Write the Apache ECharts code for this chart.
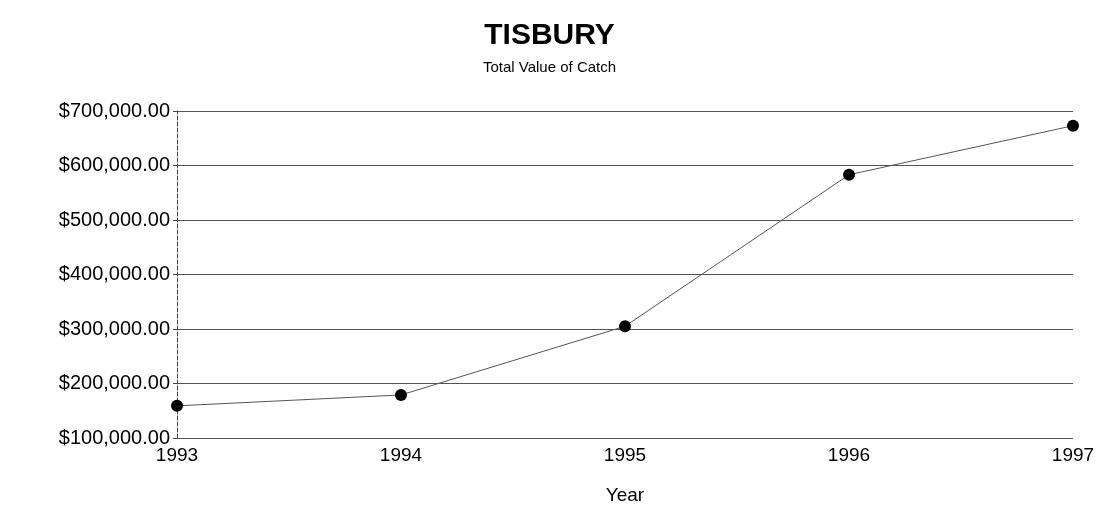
<!DOCTYPE html>
<html>
<head>
<meta charset="utf-8">
<script src="https://cdn.jsdelivr.net/npm/echarts@6/dist/echarts.min.js"></script>
<style>
  html, body { margin: 0; padding: 0; background: #fff; }
  #chart { width: 1099px; height: 506px; }
</style>
</head>
<body>
<div id="chart"></div>
<script>
const years = ['1993', '1994', '1995', '1996', '1997']
const catchValue = [159000, 179000, 305000, 583000, 673000]
const yTicks = [100000, 200000, 300000, 400000, 500000, 600000, 700000]

const fmt = v => '$' + v.toLocaleString('en-US', { minimumFractionDigits: 2, maximumFractionDigits: 2 })

const myChart = echarts.init(document.getElementById('chart'))
myChart.setOption({
  animation: false,
  textStyle: { fontFamily: 'Liberation Sans, Arial, sans-serif', color: '#000' },
  title: {
    text: 'TISBURY',
    subtext: 'Total Value of Catch',
    left: 'center',
    top: 16,
    itemGap: 9,
    textStyle: { fontSize: 30, fontWeight: 'bold', color: '#000' },
    subtextStyle: { fontSize: 15, color: '#000' }
  },
  grid: { left: 177, right: 26, top: 111, bottom: 68, containLabel: false, outerBoundsMode: 'none' },
  xAxis: {
    type: 'category',
    data: years,
    boundaryGap: false,
    name: 'Year',
    nameLocation: 'middle',
    nameGap: 48,
    nameTextStyle: { fontSize: 19, color: '#000' },
    axisLine: { show: false },
    axisTick: { show: false },
    axisLabel: { fontSize: 19, color: '#000', margin: 8 }
  },
  yAxis: {
    type: 'value',
    min: yTicks[0],
    max: yTicks[yTicks.length - 1],
    interval: 100000,
    axisLine: { show: true, lineStyle: { color: '#444', width: 1, type: 'dashed' } },
    axisTick: { show: true, length: 4, lineStyle: { color: '#444' } },
    axisLabel: { fontSize: 20, color: '#000', margin: 7, formatter: fmt },
    splitLine: { show: true, lineStyle: { color: '#555', width: 1 } }
  },
  series: [
    {
      name: 'Total Value of Catch',
      type: 'line',
      data: catchValue,
      symbol: 'circle',
      symbolSize: 12,
      itemStyle: { color: '#000' },
      lineStyle: { color: '#555', width: 1 }
    }
  ]
})
</script>
</body>
</html>
